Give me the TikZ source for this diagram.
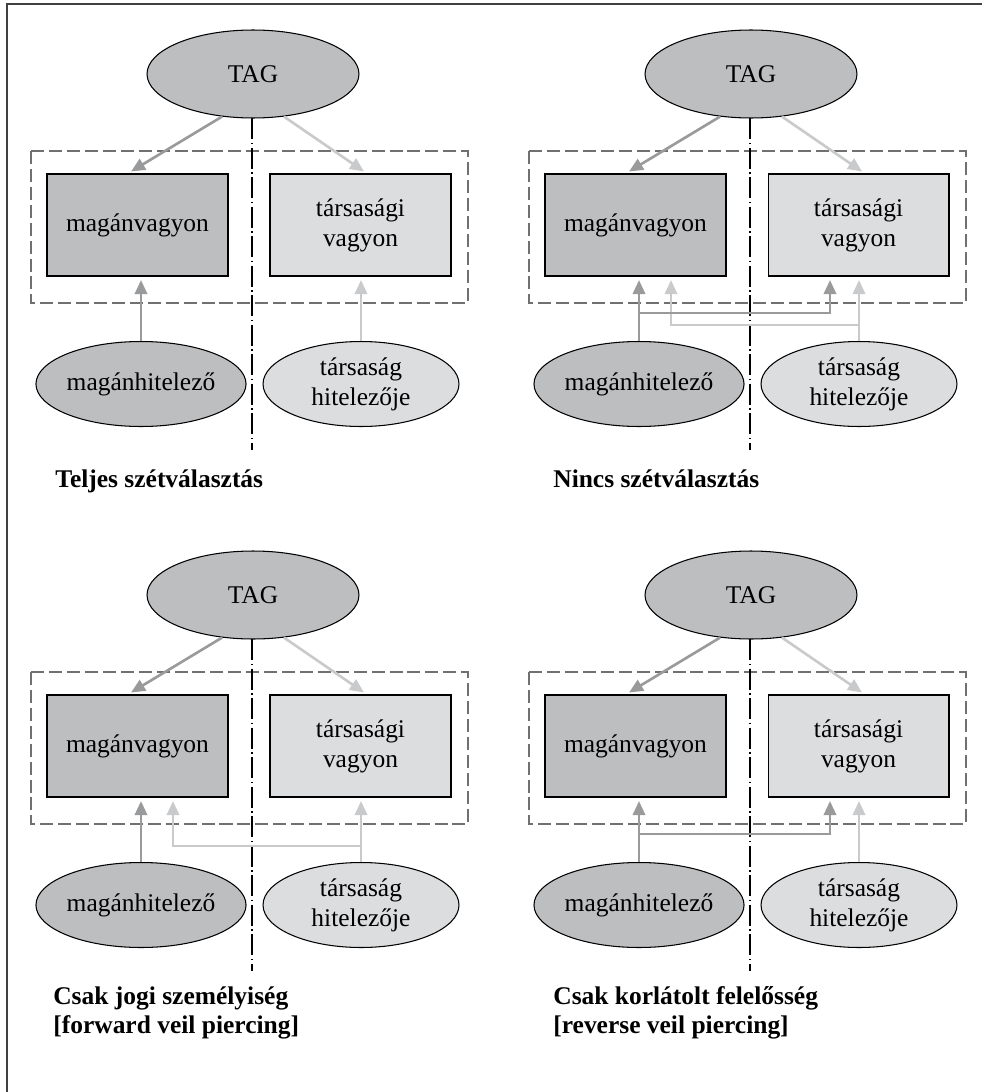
\documentclass[tikz,border=0pt]{standalone}
\usepackage{fontspec}
\setmainfont{Liberation Serif}
\usetikzlibrary{arrows.meta,shapes.geometric,positioning,calc}
\definecolor{darkfill}{HTML}{BDBEC0}
\definecolor{lightfill}{HTML}{DCDDDF}
\definecolor{darkarr}{HTML}{999A9C}
\definecolor{lightarr}{HTML}{C9CACC}
\definecolor{boxdash}{HTML}{707070}

\begin{document}
\begin{tikzpicture}[x=0.02cm,y=-0.02cm,
  every node/.style={font=\fontsize{14.5}{17}\selectfont},
  asset/.style={draw=black, line width=0.6pt, minimum width=3.62cm, minimum height=2.04cm, inner sep=0pt, align=center},
  party/.style={ellipse, draw=black, line width=0.6pt, inner sep=0pt, align=center},
  darr/.style={-{Triangle[length=8pt,width=7pt]}, line width=1.5pt, darkarr},
  larr/.style={-{Triangle[length=8pt,width=7pt]}, line width=1.5pt, lightarr},
  wall/.style={draw=boxdash, line width=0.8pt, dash pattern=on 7.4pt off 2.8pt},
  divider/.style={black, line width=0.8pt, dash pattern=on 12pt off 2pt on 0.8pt off 2pt},
  title/.style={font=\fontsize{14.5}{16}\selectfont\bfseries, anchor=base west, align=left, inner sep=0pt}]
\useasboundingbox (0,0) rectangle (981,1092);
% outer frame
\draw[black!75, line width=0.9pt] (7,4) rectangle (1010,1120);
% four panels with the same frame
\foreach \px/\py/\n in {0/0/A,498/0/B,0/521/C,498/521/D} {
  \begin{scope}[shift={(\px,\py)}]
  \draw[wall] (31,151) rectangle (468,303);
  \node[party, fill=darkfill, minimum width=4.24cm, minimum height=1.76cm] (tag\n) at (253,74) {TAG};
  \draw[divider] (252,118) -- (252,450);
  \node[asset, fill=darkfill] (mv\n) at (137.5,225) {magánvagyon};
  \node[asset, fill=lightfill] (tv\n) at (360.5,225) {társasági\\vagyon};
  \node[party, fill=darkfill, minimum width=3.92cm, minimum height=1.7cm] (mh\n) at (141,384) {magánhitelező};
  \node[party, fill=lightfill, minimum width=3.92cm, minimum height=1.7cm] (th\n) at (361,384) {társaság\\hitelezője};
  \coordinate (dk\n) at (332,313);
  \coordinate (lt\n) at (173,325);
  % TAG owns both
  \draw[darr] (tag\n.234) -- ($(mv\n.north)+(-6.5,-2)$);
  \draw[larr] (tag\n.-54) -- ($(tv\n.north)+(3.5,-2)$);
  % creditors reach their own assets
  \draw[darr, shorten >=0.07cm] (mh\n.north) -- (mh\n.north |- mv\n.south);
  \draw[larr, shorten >=0.07cm] (th\n.north) -- (th\n.north |- tv\n.south);
  \end{scope}
}
% Nincs: both cross
\draw[larr, shorten >=0.07cm] (thB.north |- ltB) -- (ltB) -- (ltB |- mvB.south);
\draw[darr, shorten >=0.07cm] (mhB.north |- dkB) -- (dkB) -- (dkB |- tvB.south);
% forward veil piercing
\draw[larr, shorten >=0.07cm] (thC.north |- ltC) -- (ltC) -- (ltC |- mvC.south);
% reverse veil piercing
\draw[darr, shorten >=0.07cm] (mhD.north |- dkD) -- (dkD) -- (dkD |- tvD.south);
% captions
\node[title] (ttlA) at (55,487) {Teljes szétválasztás};
\node[title] (ttlB) at (553,487) {Nincs szétválasztás};
\node[title] (ttlC) at (53,1033) {Csak jogi személyiség\\{}[forward veil piercing]};
\node[title] (ttlD) at (553,1033) {Csak korlátolt felelősség\\{}[reverse veil piercing]};
\end{tikzpicture}
\end{document}
